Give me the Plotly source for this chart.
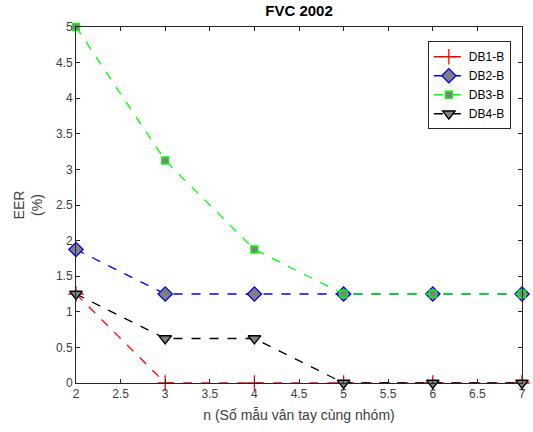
import plotly.graph_objects as go

n = [2, 3, 4, 5, 6, 7]
db1 = [1.25, 0, 0, 0, 0, 0]
db2 = [1.875, 1.25, 1.25, 1.25, 1.25, 1.25]
db3 = [5, 3.125, 1.875, 1.25, 1.25, 1.25]
db4 = [1.25, 0.625, 0.625, 0, 0, 0]

fig = go.Figure()
fig.add_trace(go.Scatter(x=n, y=db1, name="DB1-B", mode="lines+markers",
    line=dict(color="#ff0000", dash="dash", width=1.3),
    marker=dict(symbol="cross-thin", size=11, line=dict(color="#ff0000", width=1.3)),
    cliponaxis=False))
fig.add_trace(go.Scatter(x=n, y=db2, name="DB2-B", mode="lines+markers",
    line=dict(color="#0000ff", dash="dash", width=1.3),
    marker=dict(symbol="diamond", size=11, color="#808080", line=dict(color="#0000ff", width=1.3)),
    cliponaxis=False))
fig.add_trace(go.Scatter(x=n, y=db3, name="DB3-B", mode="lines+markers",
    line=dict(color="#00ff00", dash="dash", width=1.3),
    marker=dict(symbol="square", size=7, color="#808080", line=dict(color="#00ff00", width=1.3)),
    cliponaxis=False))
fig.add_trace(go.Scatter(x=n, y=db4, name="DB4-B", mode="lines+markers",
    line=dict(color="#000000", dash="dash", width=1.3),
    marker=dict(symbol="triangle-down", size=11, color="#808080", line=dict(color="#000000", width=1.3)),
    cliponaxis=False))

axis_common = dict(showgrid=False, zeroline=False, showline=True, linecolor="#262626",
                   linewidth=1, mirror="ticks", ticks="inside", ticklen=4, tickcolor="#262626",
                   ticklabeloverflow="allow",
                   tickfont=dict(size=12, color="#404040"))
fig.update_layout(
    width=533, height=432,
    margin=dict(l=76, r=7, t=27, b=49),
    paper_bgcolor="white", plot_bgcolor="white",
    font=dict(family="Liberation Sans, Arial, sans-serif", color="#262626"),
    title=dict(text="<b>FVC 2002</b>", x=0.5, xref="paper", xanchor="center", y=0.987, yanchor="top",
               font=dict(size=15, color="#000000")),
    xaxis=dict(range=[2, 7], dtick=0.5, title=dict(text="n (Số mẫu vân tay cùng nhóm)",
               font=dict(size=14, color="#404040"), standoff=9), **axis_common),
    yaxis=dict(range=[0, 5], dtick=0.5, title=dict(text="EER<br>(%)",
               font=dict(size=14, color="#404040"), standoff=9), **axis_common),
    legend=dict(x=0.975, y=0.96, xanchor="right", yanchor="top", bgcolor="white",
                bordercolor="#262626", borderwidth=1, font=dict(size=12, color="#000000"),
                tracegroupgap=0),
    showlegend=True,
)
fig.write_html("out.html", config={"displayModeBar": False},
               post_script="document.body.style.margin='0';document.body.style.overflow='hidden';")
